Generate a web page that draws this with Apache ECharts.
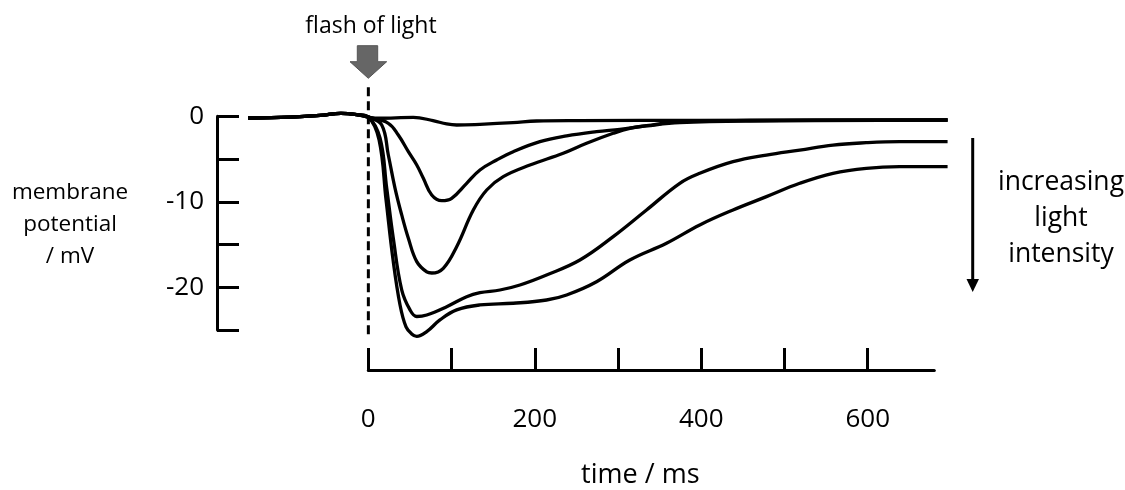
<!DOCTYPE html>
<html>
<head>
<meta charset="utf-8">
<script src="https://cdn.jsdelivr.net/npm/echarts@6/dist/echarts.min.js"></script>
<style>
  html, body { margin: 0; padding: 0; background: #fff; }
  #main { width: 1125px; height: 490px; }
</style>
</head>
<body>
<div id="main"></div>
<script>
// time (ms) / membrane potential (mV)
var baseline = [[-144.5, -0.2], [-94, -0.1], [-58, 0.1], [-33, 0.35], [-14, 0.2], [0, -0.1]];

var resp1 = [[12, -0.23], [54, -0.12], [77.7, -0.51], [94.2, -0.9], [106.2, -1.02], [134.2, -0.94],
  [173.9, -0.75], [202.3, -0.55], [254, -0.51], [398.5, -0.47], [696.5, -0.43]];

var resp2 = [[24, -0.82], [36, -2.19], [48.1, -4.14], [58.2, -5.7], [66.1, -7.25], [76.2, -9.2],
  [88.2, -9.87], [100.2, -9.59], [118.2, -7.84], [134.2, -6.28], [154.3, -5.11], [174.2, -4.14],
  [206.3, -2.97], [238.4, -2.3], [274.4, -1.8], [302.4, -1.52], [334.5, -1.13], [374.5, -0.75],
  [458.6, -0.55], [696.5, -0.43]];

var resp3 = [[16.1, -1.02], [24, -4.53], [32.1, -8.42], [40.1, -11.54], [48.1, -14.27], [58.2, -17.0],
  [70.2, -18.2], [76.2, -18.33], [90.1, -17.78], [106.2, -15.25], [126.2, -10.96], [142.3, -8.62],
  [162.2, -7.06], [194.3, -5.7], [234.3, -4.33], [262.4, -3.16], [294.4, -1.99], [314.4, -1.4],
  [334.5, -1.1], [374.5, -0.63], [458.6, -0.49], [696.5, -0.43]];

var resp4 = [[14.1, -2.57], [22.1, -8.42], [30, -14.27], [40.1, -20.3], [50.1, -22.65], [58.2, -23.42],
  [70.2, -23.24], [94.2, -22.27], [118.2, -21.1], [134.2, -20.63], [158.2, -20.32], [182.3, -19.73],
  [214.3, -18.56], [254.4, -16.81], [294.4, -14.08], [334.5, -10.96], [374.5, -7.84], [398.5, -6.67],
  [438.5, -5.31], [478.7, -4.53], [518.7, -3.95], [558.7, -3.36], [598.8, -3.09], [638.8, -2.97],
  [696.5, -2.97]];

var resp5 = [[12.9, -2.77], [21.3, -9.8], [29.7, -16.8], [38.1, -22.07], [45.3, -24.64], [52.1, -25.46],
  [58.2, -25.75], [70.2, -25.19], [86.1, -23.82], [106.2, -22.65], [134.2, -22.07], [174.2, -21.87],
  [214.3, -21.49], [238.4, -20.9], [274.4, -19.35], [314.4, -16.81], [358.5, -14.85], [398.5, -12.71],
  [438.5, -10.96], [478.7, -9.4], [518.7, -7.84], [558.7, -6.67], [598.8, -6.08], [638.8, -5.89],
  [696.5, -5.89]];

var flashLine = [[0, 3.4], [0, -25.9]];

var xTicks = [0, 100, 200, 300, 400, 500, 600];
var xLabels = [0, 200, 400, 600];
var yTicks = [0, -5, -10, -15, -20, -25];
var yLabels = [0, -10, -20];

var FONT = '"Open Sans", "DejaVu Sans", sans-serif';

var myChart = echarts.init(document.getElementById('main'));

function trace(d) {
    return {
        type: 'line',
        data: baseline.concat(d),
        xAxisIndex: 0,
        yAxisIndex: 0,
        smooth: 0.4,
        showSymbol: false,
        clip: false,
        silent: true,
        lineStyle: { color: '#000', width: 3.3 }
    };
}

var option = {
    backgroundColor: '#fff',
    animation: false,
    grid: [
        { left: 217, right: 177, top: 116.3, bottom: 160 },
        { left: 368.3, right: 190.7, top: 300, bottom: 119.3 }
    ],
    xAxis: [
        { gridIndex: 0, type: 'value', min: -182, max: 697, show: false },
        {
            gridIndex: 1,
            type: 'value',
            min: 0,
            max: 680,
            position: 'bottom',
            splitLine: { show: false },
            axisLine: { show: true, lineStyle: { color: '#000', width: 3 } },
            axisTick: { show: true, inside: true, length: 22, customValues: xTicks, lineStyle: { color: '#000', width: 3 } },
            axisLabel: { customValues: xLabels, margin: 37, color: '#000', fontSize: 26, fontFamily: FONT },
            name: 'time / ms',
            nameLocation: 'middle',
            nameGap: 92,
            nameTextStyle: { color: '#000', fontSize: 27, fontFamily: FONT, padding: [0, 22, 0, 0] }
        }
    ],
    yAxis: [
        {
            gridIndex: 0,
            type: 'value',
            min: -25,
            max: 0,
            position: 'left',
            splitLine: { show: false },
            axisLine: { show: true, onZero: false, lineStyle: { color: '#000', width: 3 } },
            axisTick: { show: true, inside: true, length: 22, customValues: yTicks, lineStyle: { color: '#000', width: 3 } },
            axisLabel: { customValues: yLabels, margin: 13, color: '#000', fontSize: 26, fontFamily: FONT, padding: [8, 0, 0, 0] }
        },
        { gridIndex: 1, type: 'value', show: false }
    ],
    graphic: [
        {
            type: 'text',
            style: { text: 'flash of light', x: 371, y: 26, align: 'center', verticalAlign: 'middle', fill: '#000', font: '23px ' + FONT }
        },
        {
            type: 'polygon',
            shape: { points: [[357.3, 45.7], [377.7, 45.7], [377.7, 61.7], [386.7, 61.7], [368.3, 78.3], [350, 61.7], [357.3, 61.7]] },
            style: { fill: '#666', stroke: '#555', lineWidth: 1 }
        },
        {
            type: 'text',
            style: { text: 'membrane\npotential\n/ mV', x: 70, y: 225, align: 'center', verticalAlign: 'middle', lineHeight: 32, fill: '#000', font: '22.5px ' + FONT }
        },
        {
            type: 'text',
            style: { text: 'increasing\nlight\nintensity', x: 1061, y: 218, align: 'center', verticalAlign: 'middle', lineHeight: 36, fill: '#000', font: '26.5px ' + FONT }
        },
        {
            type: 'line',
            shape: { x1: 972.7, y1: 138, x2: 972.7, y2: 282 },
            style: { stroke: '#000', lineWidth: 3 }
        },
        {
            type: 'polygon',
            shape: { points: [[966.5, 279], [979, 279], [972.7, 292]] },
            style: { fill: '#000' }
        }
    ],
    series: [
        {
            type: 'line',
            data: flashLine,
            xAxisIndex: 0,
            yAxisIndex: 0,
            showSymbol: false,
            clip: false,
            silent: true,
            lineStyle: { color: '#000', width: 3, type: [9, 5] }
        },
        trace(resp1),
        trace(resp2),
        trace(resp3),
        trace(resp4),
        trace(resp5)
    ]
};

myChart.setOption(option);
</script>
</body>
</html>
